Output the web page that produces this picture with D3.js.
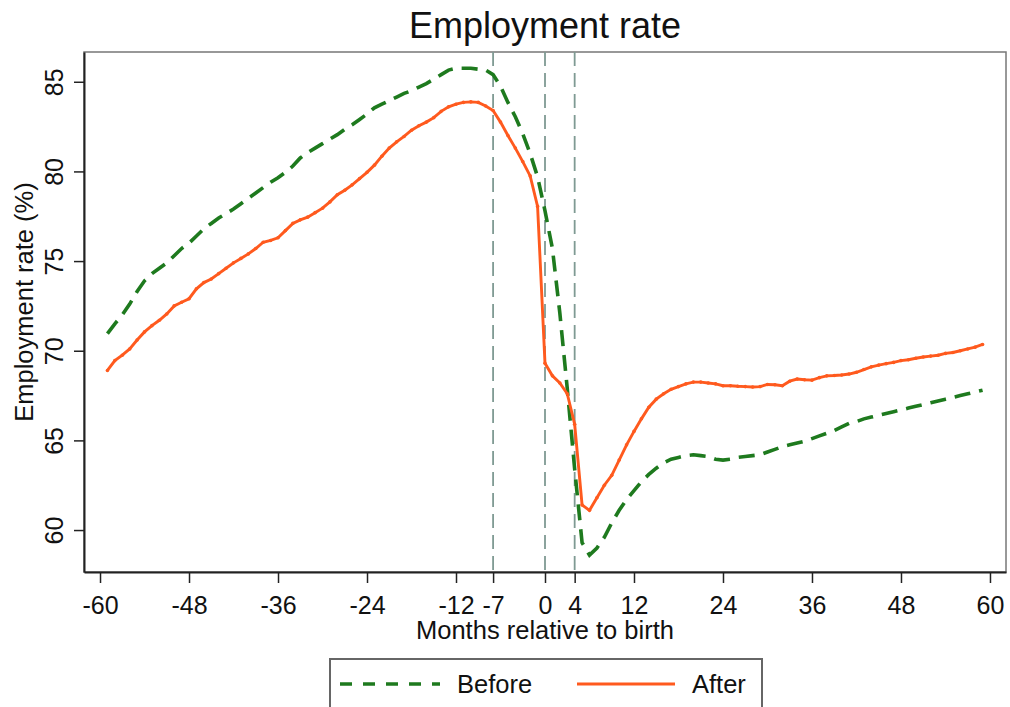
<!DOCTYPE html>
<html>
<head>
<meta charset="utf-8">
<script src="https://cdn.jsdelivr.net/npm/d3@7"></script>
<style>
  body { margin: 0; background: #fff; }
  text { font-family: "Liberation Sans", Arial, sans-serif; fill: #111; }
</style>
</head>
<body>
<div class="chart"></div>
<script>
var w = 1010,
    h = 707;

// months relative to birth
var months = d3.range(-59, 60);

var before = [70.95, 71.5, 72.0, 72.6, 73.3, 73.9, 74.3, 74.6, 74.9, 75.3,
  75.7, 76.0, 76.4, 76.8, 77.1, 77.4, 77.65, 77.9, 78.2, 78.5,
  78.8, 79.1, 79.4, 79.65, 79.95, 80.3, 80.75, 81.05, 81.3, 81.55,
  81.8, 82.05, 82.35, 82.6, 82.9, 83.2, 83.55, 83.75, 83.95, 84.15,
  84.35, 84.5, 84.7, 84.9, 85.15, 85.4, 85.65, 85.75, 85.75, 85.75,
  85.7, 85.65, 85.4, 84.75, 83.85, 83.05, 82.1, 81.0, 79.7, 77.8,
  75.7, 72.1, 67.9, 63.4, 59.3, 58.6, 59.0, 59.6, 60.4, 61.1,
  61.7, 62.2, 62.7, 63.1, 63.45, 63.75, 63.95, 64.05, 64.15, 64.2,
  64.15, 64.1, 63.95, 63.9, 63.95, 64.05, 64.1, 64.15, 64.2, 64.35,
  64.5, 64.65, 64.75, 64.85, 64.95, 65.1, 65.25, 65.4, 65.55, 65.75,
  65.95, 66.05, 66.2, 66.3, 66.4, 66.5, 66.6, 66.7, 66.8, 66.9,
  67.0, 67.1, 67.2, 67.3, 67.4, 67.5, 67.6, 67.7, 67.8];

var after = [68.9, 69.45, 69.75, 70.1, 70.6, 71.05, 71.4, 71.7, 72.05, 72.5,
  72.7, 72.9, 73.45, 73.8, 74.0, 74.3, 74.6, 74.9, 75.15, 75.4,
  75.7, 76.05, 76.15, 76.3, 76.7, 77.1, 77.3, 77.45, 77.7, 77.95,
  78.3, 78.7, 78.95, 79.25, 79.6, 79.95, 80.35, 80.85, 81.3, 81.65,
  81.95, 82.3, 82.55, 82.75, 83.0, 83.35, 83.6, 83.75, 83.85, 83.88,
  83.85, 83.65, 83.4, 82.75, 82.0, 81.3, 80.55, 79.75, 78.05, 69.3,
  68.6, 68.2, 67.6, 65.9, 61.4, 61.1, 61.8, 62.5, 63.05, 63.9,
  64.75, 65.5, 66.2, 66.85, 67.3, 67.6, 67.85, 68.0, 68.15, 68.25,
  68.25, 68.2, 68.15, 68.05, 68.05, 68.02, 68.0, 67.98, 68.0, 68.12,
  68.1, 68.05, 68.3, 68.42, 68.38, 68.36, 68.5, 68.6, 68.62, 68.65,
  68.7, 68.8, 68.95, 69.1, 69.2, 69.28, 69.35, 69.45, 69.5, 69.58,
  69.65, 69.7, 69.75, 69.85, 69.9, 70.0, 70.1, 70.2, 70.35];

var xTicks = [-60, -48, -36, -24, -12, -7, 0, 4, 12, 24, 36, 48, 60];
var yTicks = [60, 65, 70, 75, 80, 85];
var refLines = [-7, 0, 4];

var green = "#1e7a1e",
    orange = "#ff5a1e";

var pLeft = 84, pRight = 1006, pTop = 52, pBottom = 572;

var svg = d3.select("body").select(".chart").append("svg")
  .attr("width", w)
  .attr("height", h);

var x = d3.scaleLinear().domain([-62.16, 62.16]).range([pLeft, pRight]);
var y = d3.scaleLinear().domain([57.66, 86.66]).range([pBottom, pTop]);

// plot region outline
svg.append("rect")
  .attr("x", pLeft).attr("y", pTop)
  .attr("width", pRight - pLeft).attr("height", pBottom - pTop)
  .style("fill", "none")
  .style("stroke", "#777")
  .style("stroke-width", 1.5);

// reference lines
svg.selectAll("line.ref")
  .data(refLines)
  .enter()
  .append("line")
  .attr("class", "ref")
  .attr("x1", function(d) { return x(d); })
  .attr("x2", function(d) { return x(d); })
  .attr("y1", pTop)
  .attr("y2", pBottom)
  .style("stroke", "#7f9a93")
  .style("stroke-width", 1.8)
  .style("stroke-dasharray", "14,7");

var line = d3.line()
  .x(function(d, i) { return x(months[i]); })
  .y(function(d) { return y(d); });

svg.append("path")
  .datum(before)
  .attr("d", line)
  .style("fill", "none")
  .style("stroke", green)
  .style("stroke-width", 3.6)
  .style("stroke-dasharray", "16,9");

svg.append("path")
  .datum(after)
  .attr("d", line)
  .style("fill", "none")
  .style("stroke", orange)
  .style("stroke-width", 2.9);

svg.selectAll("circle.pt")
  .data(after)
  .enter()
  .append("circle")
  .attr("class", "pt")
  .attr("cx", function(d, i) { return x(months[i]); })
  .attr("cy", function(d) { return y(d); })
  .attr("r", 1.8)
  .style("fill", orange);

// axes
var fmt = function(d) { return String(d); };

var xAxis = svg.append("g")
  .attr("transform", "translate(0," + pBottom + ")")
  .call(d3.axisBottom(x).tickValues(xTicks).tickFormat(fmt).tickSize(11).tickSizeOuter(0));
xAxis.select(".domain").style("stroke", "#222").style("stroke-width", 2);
xAxis.selectAll(".tick line").style("stroke", "#222").style("stroke-width", 1.5);
xAxis.selectAll(".tick text")
  .attr("y", 24)
  .style("font-size", "25px")
  .style("font-family", "Liberation Sans, Arial, sans-serif")
  .style("fill", "#111");

var yAxis = svg.append("g")
  .attr("transform", "translate(" + pLeft + ",0)")
  .call(d3.axisLeft(y).tickValues(yTicks).tickFormat(fmt).tickSize(10).tickSizeOuter(0));
yAxis.select(".domain").style("stroke", "#222").style("stroke-width", 2);
yAxis.selectAll(".tick line").style("stroke", "#222").style("stroke-width", 1.5);
yAxis.selectAll(".tick text")
  .attr("x", 0).attr("y", 0).attr("dy", 0)
  .attr("transform", "translate(-21,0) rotate(-90)")
  .attr("text-anchor", "middle")
  .style("font-size", "25px")
  .style("font-family", "Liberation Sans, Arial, sans-serif")
  .style("fill", "#111");

// titles
svg.append("text")
  .attr("x", 545).attr("y", 38)
  .attr("text-anchor", "middle")
  .style("font-size", "36px")
  .text("Employment rate");

svg.append("text")
  .attr("x", 545).attr("y", 639)
  .attr("text-anchor", "middle")
  .style("font-size", "25.5px")
  .text("Months relative to birth");

svg.append("text")
  .attr("transform", "translate(33,302) rotate(-90)")
  .attr("text-anchor", "middle")
  .style("font-size", "25.5px")
  .text("Employment rate (%)");

// legend
var legend = svg.append("g");
legend.append("rect")
  .attr("x", 330).attr("y", 659)
  .attr("width", 432).attr("height", 70)
  .style("fill", "#fff")
  .style("stroke", "#666")
  .style("stroke-width", 2);
legend.append("line")
  .attr("x1", 340).attr("x2", 440).attr("y1", 684).attr("y2", 684)
  .style("stroke", green).style("stroke-width", 3.6)
  .style("stroke-dasharray", "12,11");
legend.append("text")
  .attr("x", 457).attr("y", 693)
  .style("font-size", "25.5px")
  .text("Before");
legend.append("line")
  .attr("x1", 577).attr("x2", 675).attr("y1", 684).attr("y2", 684)
  .style("stroke", orange).style("stroke-width", 3);
legend.append("text")
  .attr("x", 692).attr("y", 693)
  .style("font-size", "25.5px")
  .text("After");
</script>
</body>
</html>
